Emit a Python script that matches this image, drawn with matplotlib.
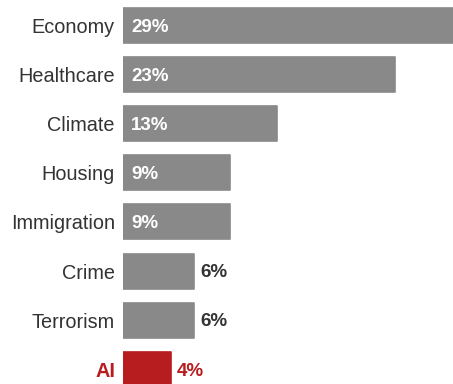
import matplotlib.pyplot as plt

# --------------------------------------------------------------
# Data
# --------------------------------------------------------------
issues = ['Economy', 'Healthcare', 'Climate', 'Housing', 'Immigration',
          'Crime', 'Terrorism', 'AI']
shares = [29, 23, 13, 9, 9, 6, 6, 4]
highlight = 'AI'

grey = '#898989'
red = '#b71c1f'
text_col = '#333333'

plt.rcParams['font.family'] = ['Liberation Sans', 'DejaVu Sans']

# --------------------------------------------------------------
# Plot
# --------------------------------------------------------------
fig = plt.figure(figsize=(4.53, 3.84), dpi=100)
ax = fig.add_axes([0.2722, 0, 0.7278, 1])

ypos = list(range(len(issues)))
colors = [red if i == highlight else grey for i in issues]
ax.barh(ypos, shares, height=0.713, color=colors, edgecolor=colors,
        linewidth=1.2, joinstyle='round')

ax.set_xlim(0, 27.94)
ax.set_ylim(7.301, -0.519)

ax.set_yticks(ypos)
ax.set_yticklabels(issues, fontsize=14.3, color=text_col)
ax.tick_params(axis='y', length=0, pad=6)
ax.set_xticks([])
for lab, name in zip(ax.get_yticklabels(), issues):
    if name == highlight:
        lab.set_color(red)
        lab.set_fontweight('bold')

for s in ax.spines.values():
    s.set_visible(False)

# value labels: inside the wide bars, past the end of the short ones
for y, v, name in zip(ypos, shares, issues):
    if v >= 9:
        ax.annotate(f'{v}%', (0, y), xytext=(5.8, -1.3), textcoords='offset points',
                    ha='left', va='center', fontsize=13.5, fontweight='bold',
                    color='white')
    else:
        c = red if name == highlight else text_col
        ax.annotate(f'{v}%', (v, y), xytext=(4.3, -1.3), textcoords='offset points',
                    ha='left', va='center', fontsize=13.5, fontweight='bold',
                    color=c)

plt.savefig('out.png', dpi=100)
